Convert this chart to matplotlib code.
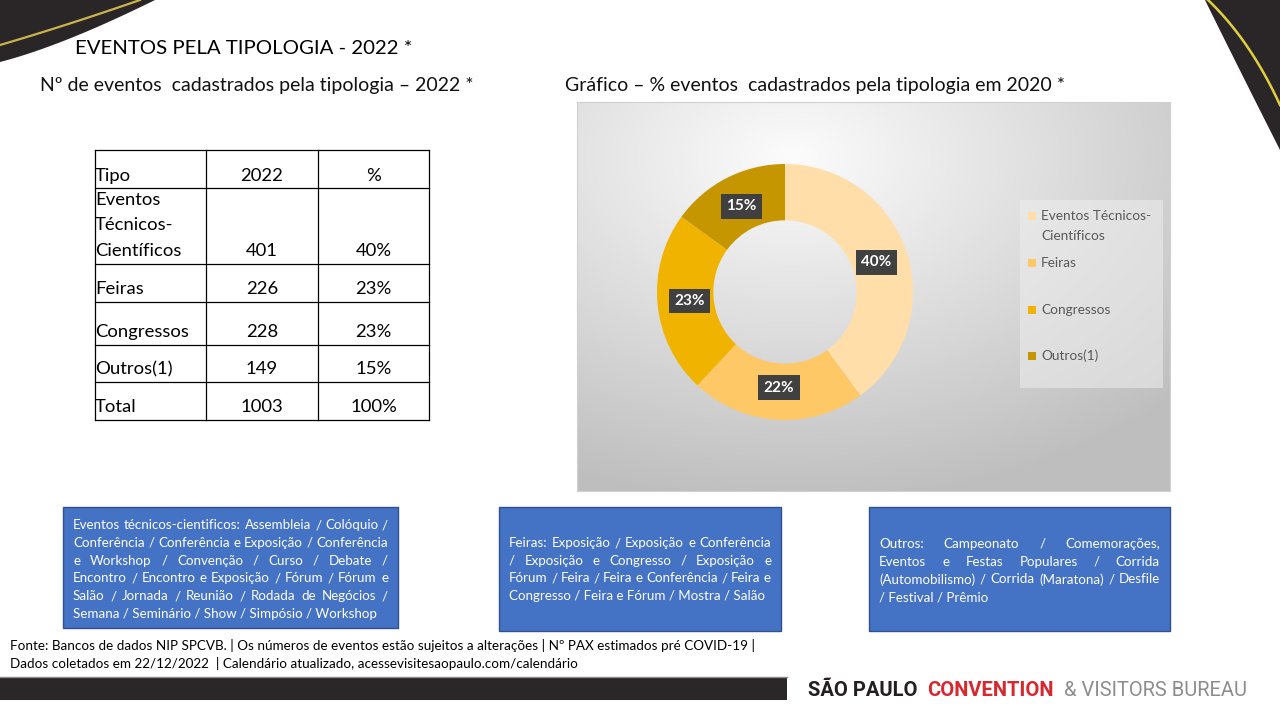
import numpy as np
import matplotlib
matplotlib.use('Agg')
import matplotlib.pyplot as plt
from matplotlib.patches import Rectangle, Polygon

plt.rcParams['font.family'] = ['Lato', 'DejaVu Sans']

# dados da tabela
tipos = ['Eventos\nTécnicos-\nCientíficos', 'Feiras', 'Congressos', 'Outros(1)', 'Total']
qtd_2022 = [401, 226, 228, 149, 1003]
pct_tabela = ['40%', '23%', '23%', '15%', '100%']

# dados do gráfico de rosca
rosca_labels = ['Eventos Técnicos-\nCientíficos', 'Feiras', 'Congressos', 'Outros(1)']
rosca_pct = [40, 22, 23, 15]
rosca_cores = ['#FFDEAA', '#FFC866', '#EFB300', '#C69600']

# textos das caixas azuis
txt_tecnicos = ['Eventos técnicos-cientificos: Assembleia / Colóquio /',
                'Conferência / Conferência e Exposição / Conferência',
                'e Workshop / Convenção / Curso / Debate /',
                'Encontro / Encontro e Exposição / Fórum / Fórum e',
                'Salão / Jornada / Reunião / Rodada de Negócios /',
                'Semana / Seminário / Show / Simpósio / Workshop']
txt_feiras = ['Feiras: Exposição / Exposição e Conferência',
              '/ Exposição e Congresso / Exposição e',
              'Fórum / Feira / Feira e Conferência / Feira e',
              'Congresso / Feira e Fórum / Mostra / Salão']
txt_outros = ['Outros: Campeonato / Comemorações,',
              'Eventos e Festas Populares / Corrida',
              '(Automobilismo) / Corrida (Maratona) / Desfile',
              '/ Festival / Prêmio']

fig = plt.figure(figsize=(12.8, 7.2), dpi=100)
fig.patch.set_facecolor('white')

# eixo de fundo em pixels
bg = fig.add_axes([0, 0, 1, 1], zorder=0)
bg.set_xlim(0, 1280)
bg.set_ylim(720, 0)
bg.axis('off')
renderer = fig.canvas.get_renderer()


def bezier(p0, p1, p2, n=40):
    t = np.linspace(0, 1, n)[:, None]
    return (1 - t) ** 2 * np.array(p0) + 2 * (1 - t) * t * np.array(p1) + t ** 2 * np.array(p2)


# detalhe superior esquerdo
curva = bezier((0, 62), (62, 46), (155, 0))
bg.add_patch(Polygon(np.vstack([[[0, 0]], curva]), closed=True, color='#2a2526', lw=0))
ouro = bezier((0, 45), (65, 26), (140, 0))
bg.plot(ouro[:, 0], ouro[:, 1], color='#c8b44a', lw=1.6)

# detalhe superior direito
curva2 = bezier((1205, 0), (1232, 55), (1280, 150))
bg.add_patch(Polygon(np.vstack([curva2, [[1280, 0]]]), closed=True, color='#2a2526', lw=0))
ouro2 = bezier((1208, 0), (1250, 40), (1280, 105))
bg.plot(ouro2[:, 0], ouro2[:, 1], color='#e0d040', lw=1.8)

# títulos
bg.text(75, 49, 'EVENTOS PELA TIPOLOGIA - 2022 *', fontsize=14.7, va='center', color='black')
bg.text(40, 86, 'Nº de eventos  cadastrados pela tipologia – 2022 *', fontsize=14, va='center', color='#111111')
bg.text(565, 86, 'Gráfico – % eventos  cadastrados pela tipologia em 2020 *', fontsize=14, va='center', color='#111111')

# tabela
linhas_y = [150, 188, 264, 302, 345, 382, 420]
colunas_x = [95, 206, 318, 429]
for y in linhas_y:
    bg.plot([colunas_x[0], colunas_x[-1]], [y, y], color='black', lw=0.9)
for x in colunas_x:
    bg.plot([x, x], [linhas_y[0], linhas_y[-1]], color='black', lw=0.9)

cab = ['Tipo', '2022', '%']
bg.text(colunas_x[0], linhas_y[1] - 12, cab[0], fontsize=13.3, va='center')
bg.text((colunas_x[1] + colunas_x[2]) / 2, linhas_y[1] - 12, cab[1], fontsize=13.3, va='center', ha='center')
bg.text((colunas_x[2] + colunas_x[3]) / 2, linhas_y[1] - 12, cab[2], fontsize=13.3, va='center', ha='center')
for i, (t, q, p) in enumerate(zip(tipos, qtd_2022, pct_tabela)):
    yb = linhas_y[i + 2] - 13
    partes = t.split('\n')
    for k, parte in enumerate(reversed(partes)):
        bg.text(colunas_x[0], yb - k * 25.5, parte, fontsize=13.3, va='center')
    bg.text((colunas_x[1] + colunas_x[2]) / 2, yb, str(q), fontsize=13.3, va='center', ha='center')
    bg.text((colunas_x[2] + colunas_x[3]) / 2, yb, p, fontsize=13.3, va='center', ha='center')


# caixas azuis com texto justificado
def caixa(x0, y0, x1, y1, linhas, ty0, dy, margem=10, fs=9.6):
    bg.add_patch(Rectangle((x0, y0), x1 - x0, y1 - y0, facecolor='#4472C4', edgecolor='#2F528F', lw=1))
    a, b = x0 + margem, x1 - margem
    for i, linha in enumerate(linhas):
        y = ty0 + i * dy
        palavras = linha.split()
        if i == len(linhas) - 1:
            bg.text(a, y, linha, fontsize=fs, color='white', va='center')
            continue
        objs = [bg.text(0, y, w, fontsize=fs, color='white', va='center') for w in palavras]
        larg = [o.get_window_extent(renderer).width for o in objs]
        gap = (b - a - sum(larg)) / (len(palavras) - 1)
        x = a
        for o, w in zip(objs, larg):
            o.set_x(x)
            x += w + gap


caixa(63, 507, 398, 628, txt_tecnicos, 525, 17.8)
caixa(499, 507, 781, 631, txt_feiras, 543, 17.7)
caixa(869, 507, 1170, 631, txt_outros, 544, 17.7)

# rodapé
bg.text(10, 645, 'Fonte: Bancos de dados NIP SPCVB. | Os números de eventos estão sujeitos a alterações | Nº PAX estimados pré COVID-19 |',
        fontsize=9.75, va='center', color='black')
bg.text(10, 663, 'Dados coletados em 22/12/2022  | Calendário atualizado, acessevisitesaopaulo.com/calendário',
        fontsize=9.75, va='center', color='black')

bg.add_patch(Rectangle((0, 677), 787, 23, facecolor='#2b2627', edgecolor='none'))
bg.plot([0, 787], [677, 677], color='#8a8a8a', lw=1)

# logotipo
logo = [('SÃO PAULO', 'bold', '#231f20'), ('CONVENTION', 'bold', '#d7282f'), ('& VISITORS BUREAU', 'normal', '#8c8c8c')]
x = 808
for txt, peso, cor in logo:
    o = bg.text(x, 690, txt, fontsize=14.5, fontweight=peso, family='Roboto', color=cor, va='center')
    x += o.get_window_extent(renderer).width + 10

# painel do gráfico com gradiente
px0, py0, px1, py1 = 577, 102, 1170, 491
painel = fig.add_axes([px0 / 1280, 1 - py1 / 720, (px1 - px0) / 1280, (py1 - py0) / 720], zorder=1)
W, H = px1 - px0, py1 - py0
xx, yy = np.meshgrid(np.arange(W), np.arange(H))
d = np.sqrt(((xx - 215) / W) ** 2 + ((yy - 55) / H) ** 2)
v = 252 - 62 * np.clip(d / 0.9, 0, 1)
img = np.dstack([v, v, v]) / 255
painel.imshow(img, extent=(px0, px1, py1, py0), aspect='auto')
painel.set_xlim(px0, px1)
painel.set_ylim(py1, py0)
painel.set_xticks([])
painel.set_yticks([])
for s in painel.spines.values():
    s.set_color('#d0d0d0')
    s.set_linewidth(0.8)

# legenda
painel.add_patch(Rectangle((1020, 200), 143, 188, facecolor='#eeeeee', alpha=0.55, edgecolor='none'))
leg_y = [216, 263, 310, 356]
for lab, cor, y in zip(rosca_labels, rosca_cores, leg_y):
    painel.add_patch(Rectangle((1028, y - 4), 8, 8, facecolor=cor, edgecolor='none'))
    for k, parte in enumerate(lab.split('\n')):
        painel.text(1041, y + k * 20, parte, fontsize=9.8, color='#595959', va='center')

# rosca
cx, cy, r = 785, 292, 128
ax = fig.add_axes([(cx - r) / 1280, 1 - (cy + r) / 720, 2 * r / 1280, 2 * r / 720], zorder=2)
ax.patch.set_alpha(0)
fatias, _ = ax.pie(rosca_pct, colors=rosca_cores, startangle=90, counterclock=False,
                   wedgeprops=dict(width=0.44, edgecolor='none'), radius=1)
ax.set_xlim(-1, 1)
ax.set_ylim(-1, 1)
ax.set_aspect('auto')
for f, p in zip(fatias, rosca_pct):
    ang = np.deg2rad((f.theta1 + f.theta2) / 2)
    ax.text(0.75 * np.cos(ang), 0.75 * np.sin(ang), f'{p}%', ha='center', va='center',
            color='white', fontweight='bold', fontsize=11,
            bbox=dict(boxstyle='square,pad=0.35', facecolor='#404040', edgecolor='none'))

fig.savefig('out.png', dpi=100)
